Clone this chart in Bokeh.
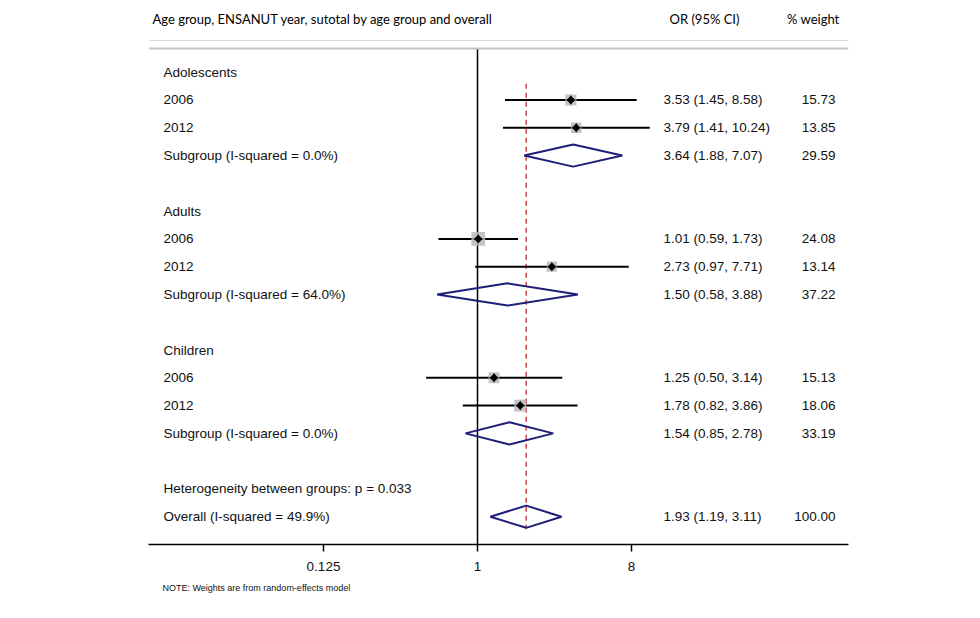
import math
from bokeh.plotting import figure
from bokeh.models import Range1d, FixedTicker, ColumnDataSource, Span, Title
from bokeh.core.properties import value
from bokeh.embed import file_html
from bokeh.resources import INLINE

# ---------------- data ----------------
groups = ["Adolescents", "Adults", "Children"]
years = ["2006", "2012"]
study_or = [[3.53, 3.79], [1.01, 2.73], [1.25, 1.78]]
study_lo = [[1.45, 1.41], [0.59, 0.97], [0.50, 0.82]]
study_hi = [[8.58, 10.24], [1.73, 7.71], [3.14, 3.86]]
study_w = [[15.73, 13.85], [24.08, 13.14], [15.13, 18.06]]
sub_i2 = [0.0, 64.0, 0.0]
sub_or = [3.64, 1.50, 1.54]
sub_lo = [1.88, 0.58, 0.85]
sub_hi = [7.07, 3.88, 2.78]
sub_w = [29.59, 37.22, 33.19]
overall_or = 1.93
overall_lo = 1.19
overall_hi = 3.11
overall_w = 100.00
overall_i2 = 49.9
het_p = 0.033
tick_vals = [0.125, 1, 8]
tick_labels = ["0.125", "1", "8"]
header_left = "Age group, ENSANUT year, sutotal by age group and overall"
header_or = "OR (95% CI)"
header_w = "% weight"
note = "NOTE: Weights are from random-effects model"

# ---------------- layout ----------------
def lx(px):  # page pixel -> data x (log2 scale, 1 at 477, 51.33 px / doubling)
    return 2 ** ((px - 477) / 51.33)

LBL_X = lx(163)
OR_X = lx(663)
W_X = lx(835)
FONT = value("Liberation Sans")
FS = "13.5px"

rows_lbl, rows_y = [], []
st_y, st_or, st_lo, st_hi, st_w = [], [], [], [], []
dm_xs, dm_ys = [], []
col_or_txt, col_or_y, col_w_txt = [], [], []
H = 0.40

row = 0
for g, name in enumerate(groups):
    rows_lbl.append(name); rows_y.append(row); row += 1
    for k, yr in enumerate(years):
        rows_lbl.append(yr); rows_y.append(row)
        st_y.append(row); st_or.append(study_or[g][k]); st_lo.append(study_lo[g][k])
        st_hi.append(study_hi[g][k]); st_w.append(study_w[g][k])
        col_or_txt.append(f"{study_or[g][k]:.2f} ({study_lo[g][k]:.2f}, {study_hi[g][k]:.2f})")
        col_w_txt.append(f"{study_w[g][k]:.2f}"); col_or_y.append(row)
        row += 1
    rows_lbl.append(f"Subgroup (I-squared = {sub_i2[g]:.1f}%)"); rows_y.append(row)
    dm_xs.append([sub_lo[g], sub_or[g], sub_hi[g], sub_or[g]])
    dm_ys.append([row, row - H, row, row + H])
    col_or_txt.append(f"{sub_or[g]:.2f} ({sub_lo[g]:.2f}, {sub_hi[g]:.2f})")
    col_w_txt.append(f"{sub_w[g]:.2f}"); col_or_y.append(row)
    row += 2
rows_lbl.append(f"Heterogeneity between groups: p = {het_p:.3f}"); rows_y.append(row); row += 1
rows_lbl.append(f"Overall (I-squared = {overall_i2:.1f}%)"); rows_y.append(row)
dm_xs.append([overall_lo, overall_or, overall_hi, overall_or])
dm_ys.append([row, row - H, row, row + H])
col_or_txt.append(f"{overall_or:.2f} ({overall_lo:.2f}, {overall_hi:.2f})")
col_w_txt.append(f"{overall_w:.2f}"); col_or_y.append(row)
last_row = row

p = figure(width=960, height=606, x_axis_type="log",
           x_range=Range1d(lx(148), lx(848)),
           y_range=Range1d(last_row + 1.0, -2.22),
           output_backend="svg", toolbar_location=None,
           min_border_left=148, min_border_right=112,
           min_border_top=10, min_border_bottom=62)
p.outline_line_color = None
p.xgrid.visible = False
p.ygrid.visible = False
p.yaxis.visible = False
p.background_fill_color = "white"
p.border_fill_color = "white"

# top rules
p.add_layout(Span(location=-1.14, dimension="width", line_color="#d9d9d9", line_width=1))
p.add_layout(Span(location=-0.85, dimension="width", line_color="#c4c4c4", line_width=2))

# null line
p.segment(x0=[1], y0=[-0.85], x1=[1], y1=[last_row + 1.0], line_color="black", line_width=1.5)
# overall effect dashed line
p.segment(x0=[overall_or], y0=[0.42], x1=[overall_or], y1=[last_row + 0.45],
          line_color="#c9484d", line_width=1.5, line_dash="5 4")

# study CIs
src = ColumnDataSource(dict(y=st_y, est=st_or, lo=st_lo, hi=st_hi,
                            sz=[2.8 * math.sqrt(w) for w in st_w]))
p.segment(x0="lo", y0="y", x1="hi", y1="y", source=src, line_color="black", line_width=2)
p.scatter(x="est", y="y", size="sz", marker="square", source=src,
          fill_color="#b8b8b8", line_color=None, fill_alpha=0.85)
p.scatter(x="est", y="y", size=7, marker="square_pin", source=src,
          fill_color="black", line_color=None, angle=0.785398)
p.scatter(x="est", y="y", size=6, marker="square", source=src,
          fill_color="black", line_color=None, angle=0.785398)

# diamonds
p.patches(xs=dm_xs, ys=dm_ys, fill_color=None, line_color="#1f1f7a", line_width=2)

# left labels
p.text(x=[LBL_X] * len(rows_lbl), y=rows_y, text=rows_lbl, text_font=FONT,
       text_font_size=FS, text_baseline="middle", text_align="left", text_color="#111111")
# OR column
p.text(x=[OR_X] * len(col_or_txt), y=col_or_y, text=col_or_txt, text_font=FONT,
       text_font_size=FS, text_baseline="middle", text_align="left", text_color="#111111")
# weight column
p.text(x=[W_X] * len(col_w_txt), y=col_or_y, text=col_w_txt, text_font=FONT,
       text_font_size=FS, text_baseline="middle", text_align="right", text_color="#111111")

# headers
HF = value("Lato")
p.text(x=[lx(152)], y=[-1.93], text=[header_left], text_font=HF, text_font_size="13px",
       text_baseline="middle", text_align="left", text_color="black")
p.text(x=[lx(669)], y=[-1.93], text=[header_or], text_font=HF, text_font_size="13px",
       text_baseline="middle", text_align="left", text_color="black")
p.text(x=[lx(839)], y=[-1.93], text=[header_w], text_font=HF, text_font_size="13px",
       text_baseline="middle", text_align="right", text_color="black")

# x axis
p.xaxis.ticker = FixedTicker(ticks=tick_vals)
p.xaxis.major_label_overrides = {t: l for t, l in zip(tick_vals, tick_labels)}
p.xaxis.minor_tick_line_color = None
p.xaxis.axis_line_width = 1.5
p.xaxis.axis_line_color = "black"
p.xaxis.major_tick_line_width = 1.5
p.xaxis.major_tick_out = 7
p.xaxis.major_tick_in = 0
p.xaxis.major_label_text_font = "Liberation Sans"
p.xaxis.major_label_text_font_size = "13.5px"
p.xaxis.major_label_text_color = "#111111"
p.xaxis.major_label_standoff = 10

p.add_layout(Title(text=note, align="left", text_font="Liberation Sans",
                   text_font_size="9px", text_font_style="normal", offset=14,
                   standoff=14, text_color="#111111"), "below")

open("out.html", "w").write(file_html(p, INLINE))
